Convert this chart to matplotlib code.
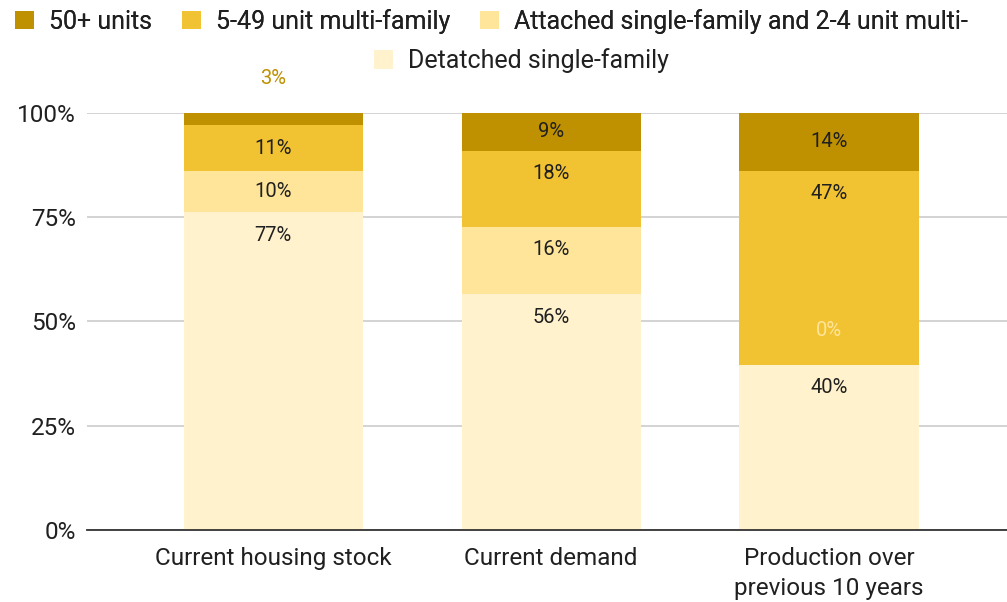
import numpy as np
import matplotlib.pyplot as plt
from matplotlib.ticker import FixedLocator

plt.rcParams['font.family'] = ['Roboto', 'DejaVu Sans']

categories = ['Current housing stock', 'Current demand', 'Production over\nprevious 10 years']
series_names = ['50+ units', '5-49 unit multi-family',
                'Attached single-family and 2-4 unit multi-', 'Detatched single-family']

# percent shares, bottom of stack is detached
detached = [77, 56, 40]
attached = [10, 16, 0]
mid_multi = [11, 18, 47]
large_multi = [3, 9, 14]

colors = {'detached': '#fff2cc', 'attached': '#ffe599',
          'mid': '#f1c232', 'large': '#bf9000'}

stack = [('detached', detached, series_names[3]),
         ('attached', attached, series_names[2]),
         ('mid', mid_multi, series_names[1]),
         ('large', large_multi, series_names[0])]

totals = np.array(detached) + np.array(attached) + np.array(mid_multi) + np.array(large_multi)

fig = plt.figure(figsize=(10.07, 6.02), dpi=100)
ax = fig.add_axes([0.0864, 0.1196, 0.9136, 0.6927])

x = np.arange(len(categories))
bottom = np.zeros(len(categories))
handles = {}
lbl_size = 14.5
for key, vals, name in stack:
    share = np.array(vals) / totals
    bars = ax.bar(x, share, 0.645, bottom=bottom, color=colors[key], label=name, zorder=2)
    handles[key] = bars
    for i, (v, s) in enumerate(zip(vals, share)):
        top = bottom[i] + s
        if v == 0:
            ax.annotate(f'{v}%', (x[i], top), xytext=(0, 25), textcoords='offset points',
                        ha='center', va='center', fontsize=lbl_size, color=colors['attached'])
        elif s < 0.05:
            ax.annotate(f'{v}%', (x[i], top), xytext=(0, 24.5), textcoords='offset points',
                        ha='center', va='center', fontsize=lbl_size, color=colors['large'],
                        annotation_clip=False)
        elif s < 0.14:
            ax.annotate(f'{v}%', (x[i], bottom[i] + s / 2), ha='center', va='center',
                        fontsize=lbl_size, color='#202020')
        else:
            ax.annotate(f'{v}%', (x[i], top), xytext=(0, -16.5), textcoords='offset points',
                        ha='center', va='center', fontsize=lbl_size, color='#202020')
    bottom = bottom + share

ax.set_xlim(-0.67, 2.64)
ax.set_ylim(0, 1)
ax.yaxis.set_major_locator(FixedLocator([0, 0.25, 0.5, 0.75, 1.0]))
ax.set_yticklabels(['0%', '25%', '50%', '75%', '100%'])
ax.grid(axis='y', color='#cccccc', linewidth=1.2, zorder=0)
ax.set_xticks(x)
ax.set_xticklabels(categories, linespacing=1.4)
ax.tick_params(axis='both', length=0, labelsize=17.5, colors='#202020')
ax.tick_params(axis='x', pad=12)
ax.tick_params(axis='y', pad=8)
for side in ['top', 'right', 'left']:
    ax.spines[side].set_visible(False)
ax.spines['bottom'].set_color('#333333')
ax.spines['bottom'].set_linewidth(1.3)
ax.spines['bottom'].set_zorder(3)

# legend across the top: three entries then one centred below
leg_kw = dict(frameon=False, fontsize=18, handlelength=0.75, handleheight=0.75,
              handletextpad=0.6, labelcolor='#202020')
leg1 = fig.legend([handles['large'], handles['mid'], handles['attached']],
                  series_names[:3], ncol=3, loc='center', bbox_to_anchor=(0.488, 0.965),
                  columnspacing=1.2, **leg_kw)
fig.add_artist(leg1)
fig.legend([handles['detached']], [series_names[3]], loc='center',
           bbox_to_anchor=(0.518, 0.899), **leg_kw)

fig.savefig('out.png', dpi=100)
